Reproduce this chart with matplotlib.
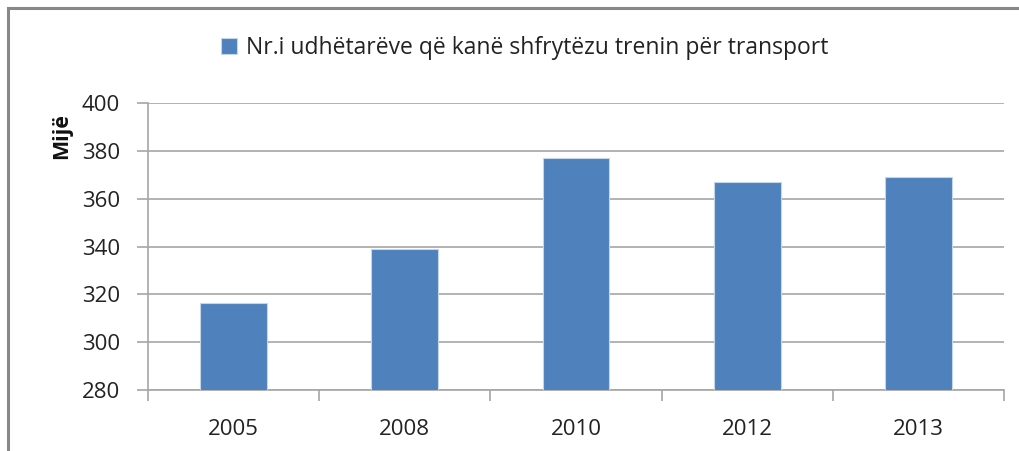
import numpy as np
import matplotlib.pyplot as plt
from matplotlib.patches import Rectangle

years = ["2005", "2008", "2010", "2012", "2013"]
values = [316.5, 339, 377, 367, 369]
legend_label = "Nr.i udhëtarëve që kanë shfrytëzu trenin për transport"
y_label = "Mijë"

plt.rcParams["font.family"] = ["Open Sans", "DejaVu Sans"]
grid_c = "#a6a6a6"
bar_c = "#4f81bd"

fig = plt.figure(figsize=(10.19, 4.51), dpi=100)
ax = fig.add_axes([148 / 1019, 1 - 390 / 451, (1004 - 148) / 1019, (390 - 103) / 451])

x = np.arange(len(years))
ax.bar(x, values, width=0.39, color=bar_c, edgecolor="#c5d5ea", linewidth=0.8,
       label=legend_label, zorder=3)

ax.set_xlim(-0.5, len(years) - 0.5)
ax.set_ylim(280, 400)
ax.set_yticks(np.arange(280, 401, 20))
ax.yaxis.grid(True, color=grid_c, linewidth=1.2, zorder=0)
ax.set_axisbelow(True)

ax.set_xticks(x)
ax.set_xticklabels(years, fontsize=16, color="#222222")
ax.tick_params(axis="x", length=0, pad=21)
ax.set_xticks(np.arange(-0.5, len(years)), minor=True)
ax.tick_params(axis="x", which="minor", length=8, color=grid_c, width=1.2)
ax.tick_params(axis="y", labelsize=16, labelcolor="#222222", length=8,
               color=grid_c, width=1.2, pad=12)

for s in ["top", "right"]:
    ax.spines[s].set_visible(False)
for s in ["left", "bottom"]:
    ax.spines[s].set_color(grid_c)
    ax.spines[s].set_linewidth(1.2)

fig.text(62 / 1019, 1 - 136 / 451, y_label, rotation=90, fontsize=15.5,
         fontweight="bold", ha="center", va="center", color="#111111")

leg = fig.legend(loc="center", bbox_to_anchor=(525 / 1019, 1 - 48 / 451),
                 frameon=False, fontsize=16.5, handlelength=0.7, handleheight=0.7,
                 handletextpad=0.4)
for t in leg.get_texts():
    t.set_color("#222222")

fig.patches.append(Rectangle((8 / 1019, -0.05), 1.2, 1 - 8 / 451 + 0.05,
                             transform=fig.transFigure, fill=False,
                             edgecolor="#888888", linewidth=2.2))

fig.savefig("out.png", dpi=100)
